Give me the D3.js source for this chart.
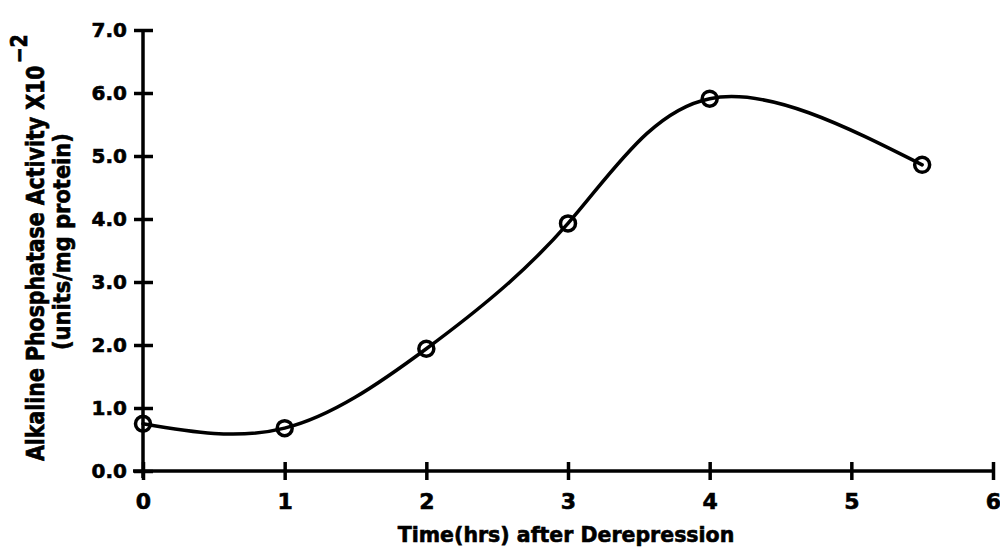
<!DOCTYPE html>
<html>
<head>
<meta charset="utf-8">
<script src="https://cdn.jsdelivr.net/npm/d3@7"></script>
<style>
  html, body { margin: 0; padding: 0; background: #fff; }
  svg text { font-family: "DejaVu Sans", sans-serif; font-weight: bold; fill: #000; stroke: #000; stroke-width: 0.6px; }
</style>
</head>
<body>
<svg id="chart" width="1000" height="550"></svg>
<script>
// Alkaline phosphatase activity over time after derepression
const hours = [0, 1, 2, 3, 4, 5.5];
const activity = [0.75, 0.68, 1.94, 3.93, 5.91, 4.86];
const xTicks = [0, 1, 2, 3, 4, 5, 6];
const yTicks = [0, 1, 2, 3, 4, 5, 6, 7];

const svg = d3.select("#chart");
const x = d3.scaleLinear().domain([0, 6]).range([143, 993]);
const y = d3.scaleLinear().domain([0, 7]).range([471, 30]);
const ink = 3.5;

// x axis
const xAxis = svg.append("g").attr("transform", `translate(0,${y(0)})`)
  .call(d3.axisBottom(x).tickValues(xTicks).tickFormat(d3.format("d")).tickSize(0).tickPadding(22));
xAxis.select(".domain").attr("stroke", "#000").attr("stroke-width", ink).attr("d", `M${x(0) - 10},0H${x(6)}`);
xAxis.selectAll(".tick line").remove();
xAxis.selectAll(".tick").append("line").attr("y1", -9).attr("y2", 9).attr("stroke", "#000").attr("stroke-width", ink);
xAxis.selectAll(".tick text").attr("font-size", 22).attr("font-family", null);

// y axis
const yAxis = svg.append("g").attr("transform", `translate(${x(0)},0)`)
  .call(d3.axisLeft(y).tickValues(yTicks).tickFormat(d3.format(".1f")).tickSize(0).tickPadding(16));
yAxis.select(".domain").attr("stroke", "#000").attr("stroke-width", ink).attr("d", `M0,${y(0) + 7}V${y(7)}`);
yAxis.selectAll(".tick line").remove();
yAxis.selectAll(".tick").append("line").attr("x1", -9).attr("x2", 10).attr("stroke", "#000").attr("stroke-width", ink);
yAxis.selectAll(".tick text").attr("font-size", 20).attr("font-family", null);

// fitted curve
const pts = hours.map((h, i) => [h, activity[i]]);
svg.append("path").datum(pts)
  .attr("fill", "none").attr("stroke", "#000").attr("stroke-width", ink)
  .attr("stroke-linejoin", "round").attr("stroke-linecap", "round")
  .attr("d", d3.line().x(d => x(d[0])).y(d => y(d[1])).curve(d3.curveNatural));

// data markers
svg.selectAll("circle.pt").data(pts).enter().append("circle")
  .attr("class", "pt")
  .attr("cx", d => x(d[0])).attr("cy", d => y(d[1])).attr("r", 7.5)
  .attr("fill", "none").attr("stroke", "#000").attr("stroke-width", ink);

// axis titles
svg.append("text").attr("x", 566).attr("y", 542).attr("text-anchor", "middle")
  .attr("font-size", 20.5).text("Time(hrs) after Derepression");

const yl = svg.append("g");
const t1 = yl.append("text").attr("transform", "translate(44,461) rotate(-90) scale(1,1.2)")
  .attr("text-anchor", "start").attr("font-size", 20.5);
t1.append("tspan").text("Alkaline Phosphatase Activity X10");
t1.append("tspan").attr("dx", 2).attr("dy", -14).attr("font-size", 19).text("\u22122");
yl.append("text").attr("transform", "translate(70,350) rotate(-90) scale(1,1.1)")
  .attr("text-anchor", "start").attr("font-size", 21).text("(units/mg protein)");
</script>
</body>
</html>
